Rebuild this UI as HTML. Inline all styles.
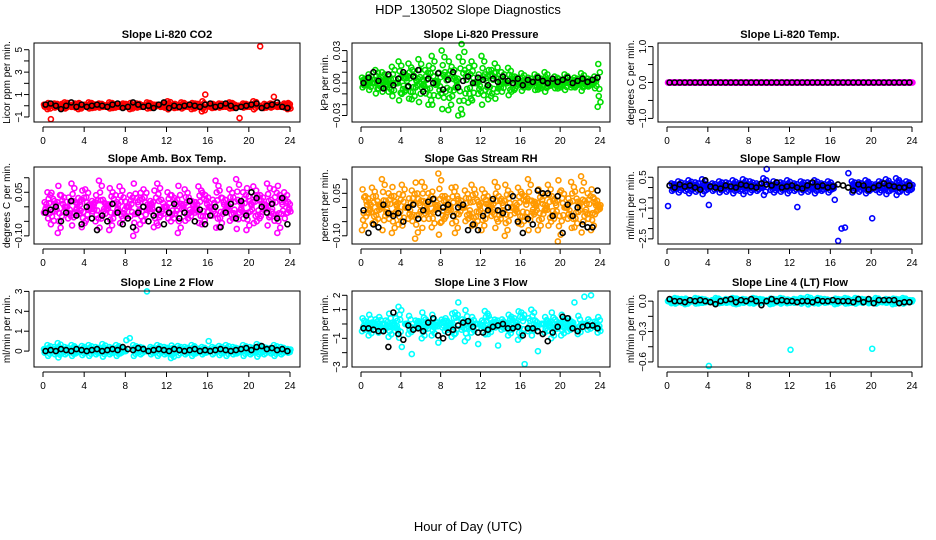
<!DOCTYPE html>
<html><head><meta charset="utf-8"><style>
body{margin:0;background:#fff;}
svg{display:block;font-family:"Liberation Sans",sans-serif;}
</style></head><body>
<svg id="chart" width="936" height="540" viewBox="0 0 936 540" xmlns="http://www.w3.org/2000/svg">
<text x="468" y="14" text-anchor="middle" font-size="13">HDP_130502  Slope Diagnostics</text>
<text x="468" y="531" text-anchor="middle" font-size="13">Hour of Day (UTC)</text>
</svg>
<script>
const xTicks=[0,4,8,12,16,20,24];
const c1=[0.1,-0.3,-1.2,0.2,0.1,-0.2,0.3,0,-0.1,0.2,-0.3,0.1,0,0.3,-0.2,0.1,0.2,-0.1,0,0.3,-0.2,0.1,-0.1,0.2,0,-0.3,0.1,0.2,-0.1,0,0.3,-0.2,0.1,0,-0.1,0.2,0.4,0.1,-0.2,0,0.3,-0.1,0.1,-0.3,0.2,0,-0.5,1.0,0.1,-0.2,0,0.2,-0.1,0.1,0.3,-0.2,0,-1.1,0.2,-0.1,0.1,0.4,0,5.3,-0.2,0.1,0.2,0.8,-0.1,0,0.2,-0.3];
const b1=[0.1,0.2,0,-0.3,0,0.3,-0.1,0.1,-0.1,0,0.1,0,-0.1,0.1,0.2,-0.2,-0.1,0.3,0.1,-0.1,0,-0.2,0.1,0.3,-0.2,0,-0.1,0,0.1,0,-0.1,0.1,0.2,-0.1,0,0.2,0,-0.2,-0.1,0,0.1,0.2,-0.2,0,0.1,0.3,-0.1,-0.2];
const c2=[0.005,-0.002,0.008,0.0,0.012,-0.005,0.01,0.003,-0.008,0.015,0.0,0.02,-0.01,0.008,0.018,-0.015,0.005,0.022,-0.004,0.012,-0.02,0.025,0.002,-0.012,0.03,0.01,-0.025,0.015,0.005,-0.03,0.036,0.012,-0.018,0.02,0.0,-0.01,0.025,0.008,-0.015,0.012,0.018,-0.005,0.01,0.0,0.014,-0.008,0.006,0.002,0.009,-0.004,0.005,0.0,0.008,-0.006,0.004,0.01,-0.003,0.002,0.006,-0.005,0.003,0.008,0.0,-0.004,0.005,0.002,0.009,-0.003,0.004,0.0,0.006,-0.022];
const b2=[0.0,0.005,0.01,0.002,-0.005,0.008,-0.002,0.004,0.01,-0.003,0.006,0.012,-0.008,0.004,0.0,0.009,-0.006,0.003,0.01,-0.004,0.002,0.006,0.0,0.005,0.003,-0.002,0.004,0.001,0.006,0.002,0.0,0.004,-0.002,0.003,0.001,0.005,0.002,0.0,0.004,0.001,0.003,0.005,0.0,0.002,0.004,0.001,0.003,0.005];
const c3=[0,0,0,0,0,0,0,0,0,0,0,0,0,0,0,0,0,0,0,0,0,0,0,0,0,0,0,0,0,0,0,0,0,0,0,0,0,0,0,0,0,0,0,0,0,0,0,0,0,0,0,0,0,0,0,0,0,0,0,0,0,0,0,0,0,0,0,0,0,0,0,0];
const b3=[0,0,0,0,0,0,0,0,0,0,0,0,0,0,0,0,0,0,0,0,0,0,0,0,0,0,0,0,0,0,0,0,0,0,0,0,0,0,0,0,0,0,0,0,0,0,0,0];
const c4=[-0.02,0.05,-0.06,0.02,-0.09,0.04,0.0,-0.04,0.08,-0.02,0.03,-0.07,0.06,-0.01,0.02,-0.05,0.09,-0.03,0.01,-0.08,0.05,-0.02,0.07,-0.04,0.0,0.04,-0.1,0.03,-0.06,0.06,-0.01,0.02,-0.07,0.08,-0.03,0.0,0.05,-0.05,0.03,-0.09,0.01,0.06,-0.04,0.02,-0.02,0.07,-0.06,0.04,0.0,-0.03,0.09,-0.07,0.03,-0.01,0.06,-0.04,0.095,-0.02,0.05,-0.08,0.02,0.07,-0.05,0.04,-0.01,0.08,-0.03,0.06,-0.09,0.03,0.05,-0.02];
const b4=[-0.02,-0.01,0.0,-0.05,-0.02,0.02,-0.03,-0.06,0.0,-0.04,-0.08,-0.03,-0.05,0.01,-0.02,-0.06,-0.04,-0.07,-0.02,0.0,-0.05,-0.03,-0.01,-0.06,-0.02,0.01,-0.04,-0.02,0.02,-0.05,-0.01,-0.06,-0.03,0.0,-0.07,-0.02,0.01,-0.04,0.02,-0.03,0.05,0.03,0.0,-0.02,0.01,-0.04,0.03,-0.06];
const c5=[-0.08,0.04,-0.02,0.07,-0.05,0.01,0.1,-0.03,0.05,-0.09,0.02,-0.06,0.08,0.0,-0.04,0.06,-0.11,0.03,0.09,-0.02,0.05,-0.07,0.01,0.12,-0.05,0.04,-0.01,0.07,-0.09,0.03,0.0,0.06,-0.04,0.08,-0.06,0.02,-0.08,0.05,0.01,-0.03,0.09,-0.05,0.03,-0.1,0.06,0.0,-0.02,0.07,-0.06,0.04,0.1,-0.03,0.02,-0.08,0.05,-0.01,0.08,-0.05,0.03,-0.12,0.06,0.0,-0.04,0.09,-0.07,0.02,0.11,-0.03,0.05,-0.08,0.03,0.01];
const b5=[-0.01,-0.09,-0.06,-0.07,0.01,-0.02,-0.03,-0.02,-0.05,0.0,0.01,-0.04,-0.01,0.02,0.03,-0.02,0.0,0.01,-0.03,0.0,0.01,-0.08,-0.06,-0.08,-0.03,-0.01,0.03,-0.01,-0.02,0.0,0.04,-0.05,-0.09,-0.04,-0.06,0.06,0.05,0.05,-0.03,0.04,-0.09,0.01,-0.03,0.0,-0.06,-0.07,-0.07,0.06];
const c6=[-0.9,0.2,0.1,0.3,0.0,0.2,0.35,0.1,0.25,0.0,0.4,0.15,-0.85,0.2,0.05,0.3,0.1,0.25,0.0,0.35,0.15,0.2,0.4,0.05,0.3,0.1,0.2,0.0,0.45,0.9,0.15,0.3,0.05,0.25,0.1,0.35,0.0,0.2,-0.95,0.3,0.1,0.25,0.05,0.35,0.15,0.2,0.0,0.3,0.1,-0.6,-2.6,-2.0,-1.95,0.7,0.3,0.1,0.25,0.0,0.35,0.2,-1.5,0.15,0.3,0.05,0.4,0.2,0.1,0.45,0.25,0.0,0.3,0.15];
const b6=[0.1,0.0,0.15,0.05,0.1,0.0,-0.1,0.35,0.05,0.0,-0.05,0.1,0.05,0.0,0.15,0.1,0.05,0.0,0.2,0.15,0.1,0.25,0.0,0.05,0.1,0.0,-0.05,0.1,0.25,0.05,0.1,0.0,0.05,0.15,0.1,0.0,-0.15,0.15,0.1,-0.1,0.0,0.1,0.2,0.1,0.05,0.0,0.0,0.1];
const c7=[0.1,0.3,0.0,0.2,0.4,0.1,0.2,0.0,0.3,0.15,0.05,0.25,0.1,0.3,0.0,0.2,0.1,0.35,0.05,0.2,0.1,0.3,0.15,0.0,0.55,0.65,0.3,0.1,0.2,0.0,3.0,0.2,0.1,0.3,0.05,0.2,0.15,-0.35,0.1,0.25,0.0,0.2,0.1,0.3,0.15,0.05,0.2,0.1,0.5,0.2,0.0,0.25,0.1,0.3,0.05,0.2,0.15,0.0,0.3,0.1,0.2,0.05,0.35,0.1,0.2,0.0,0.15,0.3,0.1,0.2,0.05,0.1];
const b7=[0.0,0.05,0.0,0.1,0.05,0.0,0.1,0.05,0.0,0.05,0.1,0.0,0.05,0.1,0.05,0.2,0.1,0.05,0.15,0.1,0.0,0.05,0.1,0.05,0.0,0.1,0.05,0.0,0.05,0.1,0.0,0.05,0.0,0.05,0.1,0.05,0.0,0.05,0.1,0.15,0.05,0.2,0.25,0.1,0.15,0.05,0.1,0.0];
const c8=[-0.5,-0.2,-0.8,0.1,-0.4,-0.6,0.0,-0.3,-0.9,-0.1,-0.5,1.2,-1.6,0.0,-0.7,-2.1,-0.3,0.2,-1.0,-0.4,0.1,-0.8,-0.2,-1.3,0.3,-0.5,-0.1,-0.9,0.8,1.5,-0.4,-1.2,0.2,-0.6,0.0,-1.4,-0.3,0.9,-0.7,-0.1,0.3,-1.5,-0.4,0.1,-0.8,0.5,-0.2,-1.1,0.8,-2.8,-0.5,1.0,-0.3,-1.9,0.0,-0.6,0.2,-1.0,-0.4,-0.1,-0.8,0.3,-0.5,-0.2,1.5,-0.7,0.0,1.9,-0.4,2.0,-0.2,-0.6];
const b8=[-0.3,-0.3,-0.4,-0.5,-0.5,-1.6,0.8,-0.7,-1.1,-0.1,-0.4,-0.3,-0.5,0.1,0.4,-0.8,-1.0,-0.6,-0.4,-0.1,0.1,0.2,-0.2,-0.6,-0.6,-0.4,-0.2,-0.1,0.0,-0.3,-0.3,-0.2,-0.8,-0.3,-0.3,-0.5,-0.7,-1.2,-0.6,-0.2,0.5,0.4,-0.3,-0.5,-0.2,-0.1,-0.1,-0.3];
const c9=[0.0,-0.02,0.03,-0.01,0.02,-0.03,0.01,0.0,0.03,-0.02,0.02,-0.01,-0.64,0.01,0.03,-0.02,0.0,0.02,-0.01,0.03,-0.03,0.01,0.02,0.0,-0.02,0.03,-0.01,0.02,0.0,0.01,-0.03,0.02,-0.01,0.03,0.0,-0.02,-0.48,0.02,0.0,0.03,-0.01,0.04,0.01,-0.02,0.03,0.0,0.02,-0.01,0.01,-0.03,0.02,0.0,0.03,-0.02,0.01,0.03,-0.01,0.02,0.0,-0.02,-0.47,0.03,0.01,-0.01,0.02,0.0,-0.03,0.02,0.01,0.03,-0.01,0.01];
const b9=[0.02,0.0,0.0,-0.01,0.01,0.0,0.01,0.0,-0.01,-0.03,0.0,0.01,0.02,-0.01,0.01,0.0,0.02,0.0,-0.04,0.0,0.02,0.0,0.01,0.0,0.0,-0.01,0.0,0.0,-0.01,0.01,0.0,0.0,0.01,0.0,0.0,0.0,-0.01,0.02,-0.01,0.02,-0.02,0.01,0.01,0.01,0.01,-0.02,-0.01,-0.01];

const f2=v=>(v<0?'\u2212':'')+Math.abs(v).toFixed(2);
const f1=v=>(v<0?'\u2212':'')+Math.abs(v).toFixed(1);
const f0=v=>(v<0?'\u2212':'')+Math.abs(v);
const panels=[
 {name:'co2',title:'Slope Li-820 CO2',yl:'Licor ppm per min.',c:c1,b:b1,col:'#ff0000',dom:[-1.45,5.6],band:0.5,ticks:[-1,0,1,2,3,4,5],labs:[-1,1,3,5],fmt:f0},
 {name:'pressure',title:'Slope Li-820 Pressure',yl:'kPa per min.',c:c2,b:b2,col:'#00dd00',dom:[-0.036,0.037],band:0.04,ticks:[-0.03,-0.02,-0.01,0,0.01,0.02,0.03],labs:[-0.03,0,0.03],fmt:f2},
 {name:'temp',title:'Slope Li-820 Temp.',yl:'degrees C per min.',c:c3,b:b3,col:'#ff00ff',dom:[-1.1,1.1],band:1,ticks:[-1,-0.5,0,0.5,1],labs:[-1,0,1],fmt:f1},
 {name:'amb-box-temp',title:'Slope Amb. Box Temp.',yl:'degrees C per min.',c:c4,b:b4,col:'#ff00ff',dom:[-0.128,0.137],band:0.2,ticks:[-0.1,-0.05,0,0.05,0.1],labs:[-0.1,0.05],fmt:f2},
 {name:'gas-stream-rh',title:'Slope Gas Stream RH',yl:'percent per min.',c:c5,b:b5,col:'#ff9900',dom:[-0.129,0.143],band:0.2,ticks:[-0.1,-0.05,0,0.05,0.1],labs:[-0.1,0.05],fmt:f2},
 {name:'sample-flow',title:'Slope Sample Flow',yl:'ml/min per min.',c:c6,b:b6,col:'#0000ff',dom:[-2.75,1.0],band:0.5,ticks:[0.5,0,-0.5,-1,-1.5,-2,-2.5],labs:[0.5,-1,-2.5],fmt:f1},
 {name:'line2-flow',title:'Slope Line 2 Flow',yl:'ml/min per min.',c:c7,b:b7,col:'#00ffff',dom:[-0.8,3.02],band:0.45,ticks:[0,1,2,3],labs:[0,1,2,3],fmt:f0},
 {name:'line3-flow',title:'Slope Line 3 Flow',yl:'ml/min per min.',c:c8,b:b8,col:'#00ffff',dom:[-3.0,2.3],band:1.2,ticks:[-3,-2,-1,0,1,2],labs:[-3,-1,1,2],fmt:f0},
 {name:'line4-flow',title:'Slope Line 4 (LT) Flow',yl:'ml/min per min.',c:c9,b:b9,col:'#00ffff',dom:[-0.65,0.1],band:0.05,ticks:[0,-0.15,-0.3,-0.45,-0.6],labs:[0,-0.3,-0.6],fmt:f1}
];
const copies=[[0,1],[0.11,0.55],[0.22,-0.45],[0.06,-0.8],[0.17,0.25],[0.28,0.8]];
const cols=[[34,300],[352,610],[658,922]];
const rows=[[43,122],[167,244],[291,367]];
const NS='http://www.w3.org/2000/svg';
const svg=document.getElementById('chart');
function mk(tag,attrs,parent,txt){const e=document.createElementNS(NS,tag);for(const k in attrs)e.setAttribute(k,attrs[k]);if(txt!==undefined)e.textContent=txt;parent.appendChild(e);return e;}
panels.forEach((p,k)=>{
 const [L,R]=cols[k%3],[T,B]=rows[Math.floor(k/3)];
 const g=mk('g',{},svg);
 
 
 const x0=L+9,x1=R-10;
 const xs=v=>x0+(v/24)*(x1-x0);
 const ys=v=>B-(v-p.dom[0])/(p.dom[1]-p.dom[0])*(B-T);
 const t=mk('text',{x:(L+R)/2,y:T-5,'text-anchor':'middle','font-size':11,'font-weight':'bold'},g,p.title);
 
 
 const yl=mk('text',{transform:`translate(${L-24},${(T+B)/2}) rotate(-90)`,'text-anchor':'middle','font-size':10},g,p.yl);
 
 
 const pts=mk('g',{fill:'none','stroke-width':1.6},g);
 
 
 const n=p.c.length;
 p.c.forEach((v,i)=>{
  copies.forEach(([dx,f],j)=>{
   if(j>0 && Math.abs(v)>p.band) return;
   const c=mk('circle',{cx:xs(i*24/n+0.1+dx),cy:ys(v*f),r:2.5,stroke:p.col},pts);
   
   
  });
 });
 const bk=mk('g',{fill:'none','stroke-width':1.6,stroke:'#000'},g);
 
 
 p.b.forEach((v,i)=>{const c=mk('circle',{cx:xs(i*0.5+0.25),cy:ys(v),r:2.5},bk);
  
  });
 const box=mk('rect',{x:L,y:T,width:R-L,height:B-T,fill:'none',stroke:'#000','stroke-width':1},g);
 
 
 const ax=mk('g',{stroke:'#000','stroke-width':1},g);
 
 
 mk('line',{x1:xs(0),x2:xs(24),y1:B+5,y2:B+5},ax);
 xTicks.forEach(v=>{mk('line',{x1:xs(v),x2:xs(v),y1:B+5,y2:B+10},ax);
  const tl=mk('text',{x:xs(v),y:B+22,'text-anchor':'middle','font-size':10,stroke:'none'},g,String(v));
  
  });
 const tmin=Math.min(...p.ticks),tmax=Math.max(...p.ticks);
 mk('line',{x1:L-5,x2:L-5,y1:ys(tmin),y2:ys(tmax)},ax);
 p.ticks.forEach(v=>{mk('line',{x1:L-10,x2:L-5,y1:ys(v),y2:ys(v)},ax);});
 p.labs.forEach(v=>{const tl=mk('text',{transform:`translate(${L-12},${ys(v)}) rotate(-90)`,'text-anchor':'middle','font-size':10},g,p.fmt(v));
  
  });
});
</script>
</body></html>
